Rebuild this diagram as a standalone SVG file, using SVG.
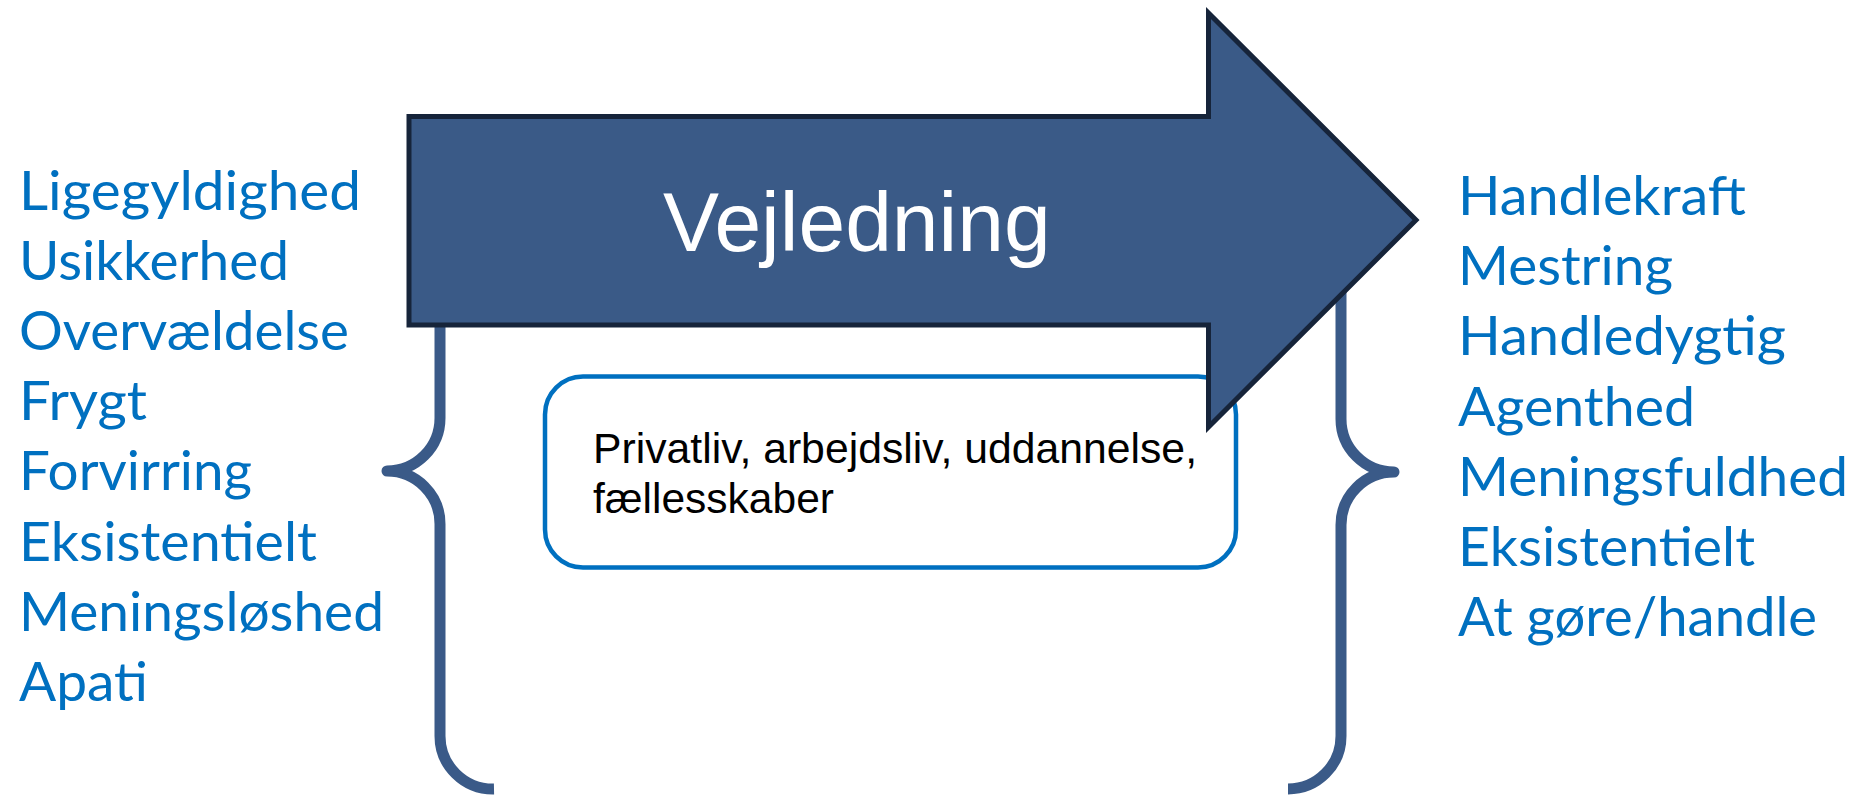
<svg xmlns="http://www.w3.org/2000/svg" width="1857" height="795" viewBox="0 0 1857 795">
<style>
.lbl{font-family:Lato,"Open Sans","Liberation Sans",sans-serif;font-size:54px;fill:#0070C0}
.brace{fill:none;stroke:#3A5A88;stroke-width:11;stroke-linejoin:round;stroke-linecap:butt}
.box{fill:#FFFFFF;stroke:#0070C0;stroke-width:4.5}
.boxtxt{font-family:"Liberation Sans",Arial,sans-serif;font-size:42.5px;fill:#000000}
.arrow{fill:#3A5A87;stroke:#16243A;stroke-width:5;stroke-linejoin:miter;stroke-miterlimit:10}
.arrowtxt{font-family:"Liberation Sans",Arial,sans-serif;font-size:84px;fill:#FFFFFF}
</style>
<rect width="1857" height="795" fill="#FFFFFF"/>
<g id="connectors">
<path id="brace-left" class="brace" d="M 494,153 A 53 53 0 0 0 440,206 V 418 A 53 53 0 0 1 387,471 A 53 53 0 0 1 440,524 V 736 A 53 53 0 0 0 494,789"/>
<path id="brace-right" class="brace" d="M 1288,155 A 53 53 0 0 1 1341,208 V 419 A 53 53 0 0 0 1394,472 A 53 53 0 0 0 1341,525 V 736 A 53 53 0 0 1 1288,789"/>
</g>
<g id="left-list">
<text class="lbl" x="19" y="210" textLength="342" lengthAdjust="spacingAndGlyphs">Ligegyldighed</text>
<text class="lbl" x="19" y="280" textLength="270" lengthAdjust="spacingAndGlyphs">Usikkerhed</text>
<text class="lbl" x="19" y="350" textLength="330" lengthAdjust="spacingAndGlyphs">Overvældelse</text>
<text class="lbl" x="19" y="420" textLength="128" lengthAdjust="spacingAndGlyphs">Frygt</text>
<text class="lbl" x="19" y="490" textLength="233" lengthAdjust="spacingAndGlyphs">Forvirring</text>
<text class="lbl" x="19" y="561" textLength="298" lengthAdjust="spacingAndGlyphs">Eksistentielt</text>
<text class="lbl" x="19" y="631" textLength="365" lengthAdjust="spacingAndGlyphs">Meningsløshed</text>
<text class="lbl" x="19" y="701" textLength="129" lengthAdjust="spacingAndGlyphs">Apati</text>
</g>
<g id="right-list">
<text class="lbl" x="1458" y="215" textLength="288" lengthAdjust="spacingAndGlyphs">Handlekraft</text>
<text class="lbl" x="1458" y="285" textLength="215" lengthAdjust="spacingAndGlyphs">Mestring</text>
<text class="lbl" x="1458" y="355" textLength="328" lengthAdjust="spacingAndGlyphs">Handledygtig</text>
<text class="lbl" x="1458" y="426" textLength="237" lengthAdjust="spacingAndGlyphs">Agenthed</text>
<text class="lbl" x="1458" y="496" textLength="390" lengthAdjust="spacingAndGlyphs">Meningsfuldhed</text>
<text class="lbl" x="1458" y="566" textLength="297" lengthAdjust="spacingAndGlyphs">Eksistentielt</text>
<text class="lbl" x="1458" y="636" textLength="359" lengthAdjust="spacingAndGlyphs">At gøre/handle</text>
</g>
<g id="context-box">
<rect class="box" x="545" y="376.5" width="691" height="191" rx="38" ry="38"/>
<text class="boxtxt" x="593" y="463" textLength="604" lengthAdjust="spacingAndGlyphs">Privatliv, arbejdsliv, uddannelse,</text>
<text class="boxtxt" x="593" y="513">fællesskaber</text>
</g>
<g id="vejledning-arrow">
<polygon class="arrow" points="409,116.5 1208.5,116.5 1208.5,13 1416,220 1208.5,427 1208.5,325 409,325"/>
<text class="arrowtxt" x="663" y="251">Vejledning</text>
</g>
</svg>
